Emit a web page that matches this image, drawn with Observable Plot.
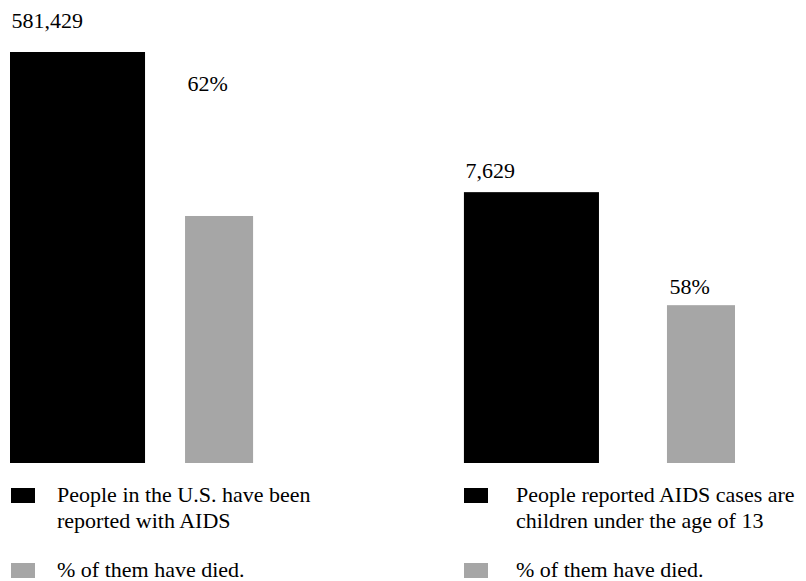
<!DOCTYPE html>
<html>
<head>
<meta charset="utf-8">
<script src="https://cdn.jsdelivr.net/npm/d3@7"></script>
<script src="https://cdn.jsdelivr.net/npm/@observablehq/plot@0.6"></script>
<style>
  html, body { margin: 0; padding: 0; background: #fff; }
  #wrap { position: relative; width: 806px; height: 581px; font-family: "Liberation Serif", "Times New Roman", serif; color: #000; }
  #chart { position: absolute; left: 0; top: 0; }
  .sw { position: absolute; width: 24px; height: 15px; }
  .lt { position: absolute; font-size: 22px; line-height: 26px; white-space: nowrap; }
</style>
</head>
<body>
<div id="wrap">
  <div id="chart"></div>
  <div id="legend"></div>
</div>
<script>
// ---- data ----
const groups = ["All U.S. cases", "Children under 13"];
const counts = [581429, 7629];
const countLabels = ["581,429", "7,629"];
const pctDied = [62, 58];
const pctLabels = ["62%", "58%"];
// bar heights, on a 0–100 display index
const countIndex = [100, 65.9];
const diedIndex = [60.1, 38.4];
const seriesKeys = ["count", "died"];
const legendCount = ["People in the U.S. have been<br>reported with AIDS", "People reported AIDS cases are<br>children under the age of 13"];
const legendDied = ["% of them have died.", "% of them have died."];
const colors = {count: "#000000", died: "#a6a6a6"};

// ---- table ----
const rows = [];
groups.forEach((g, i) => {
  rows.push({group: g, series: "count", value: countIndex[i], label: countLabels[i], raw: counts[i]});
  rows.push({group: g, series: "died", value: diedIndex[i], label: pctLabels[i], raw: pctDied[i]});
});
const pick = (g, s) => rows.filter(d => d.group === g && d.series === s);

const font = "Liberation Serif";
const chart = Plot.plot({
  width: 806,
  height: 470,
  marginTop: 52,
  marginBottom: 7,
  marginLeft: 10,
  marginRight: 62,
  style: {fontFamily: font, background: "#fff"},
  fx: {domain: groups, paddingInner: 0.383, paddingOuter: 0, round: false, axis: null, label: null},
  x: {domain: seriesKeys, paddingInner: 0.069, paddingOuter: 0, round: false, axis: null},
  y: {domain: [0, 100], axis: null},
  marks: [
    Plot.rectY(rows.filter(d => d.series === "count"), {fx: "group", x: "series", y: "value", fill: colors.count}),
    Plot.rectY(pick(groups[0], "died"), {fx: "group", x: "series", y: "value", fill: colors.died, insetLeft: 30, insetRight: 37}),
    Plot.rectY(pick(groups[1], "died"), {fx: "group", x: "series", y: "value", fill: colors.died, insetLeft: 58, insetRight: 9}),
    Plot.text(pick(groups[0], "count"), {fx: "group", x: "series", y: "value", text: "label", textAnchor: "start", lineAnchor: "bottom", dx: -66.5, dy: -25, fontSize: 22, fontFamily: font, fill: "#000"}),
    Plot.text(pick(groups[1], "count"), {fx: "group", x: "series", y: "value", text: "label", textAnchor: "start", lineAnchor: "bottom", dx: -66.5, dy: -15, fontSize: 22, fontFamily: font, fill: "#000"}),
    Plot.text(pick(groups[0], "died"), {fx: "group", x: "series", y: "value", text: "label", textAnchor: "start", lineAnchor: "bottom", dx: -35.5, dy: -125, fontSize: 22, fontFamily: font, fill: "#000"}),
    Plot.text(pick(groups[1], "died"), {fx: "group", x: "series", y: "value", text: "label", textAnchor: "start", lineAnchor: "bottom", dx: -7.4, dy: -12, fontSize: 22, fontFamily: font, fill: "#000"})
  ]
});
document.getElementById("chart").appendChild(chart);

// ---- legend (HTML) ----
const legend = document.getElementById("legend");
const cols = [{sw: 11, tx: 57}, {sw: 464, tx: 516}];
groups.forEach((g, i) => {
  const c = cols[i];
  legend.insertAdjacentHTML("beforeend",
    `<div class="sw" style="left:${c.sw}px;top:488px;background:${colors.count}"></div>` +
    `<div class="lt" style="left:${c.tx}px;top:481.6px">${legendCount[i]}</div>` +
    `<div class="sw" style="left:${c.sw}px;top:563px;background:${colors.died}"></div>` +
    `<div class="lt" style="left:${c.tx}px;top:556.6px">${legendDied[i]}</div>`);
});
</script>
</body>
</html>
